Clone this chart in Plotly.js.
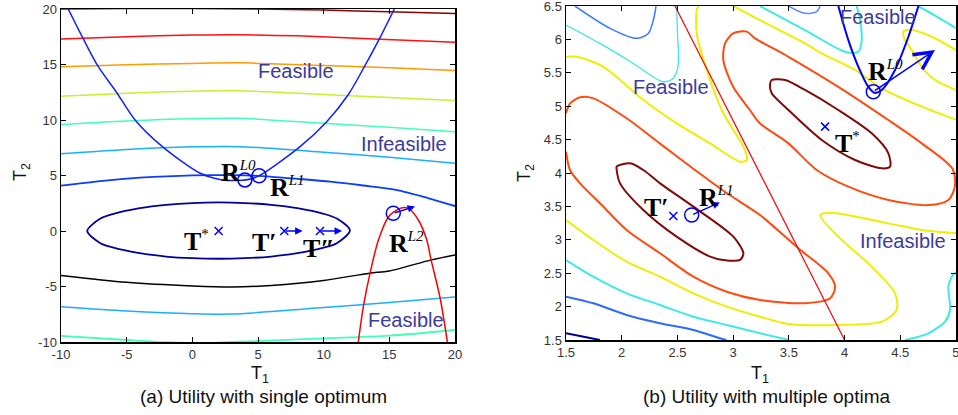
<!DOCTYPE html>
<html><head><meta charset="utf-8">
<script src="https://cdn.plot.ly/plotly-3.0.1.min.js"></script>
<style>html,body{margin:0;padding:0;background:#fff}#c{width:958px;height:415px}</style>
</head><body><div id="c"></div>
<script>
// ---------- Panel (a): contour lines ----------
const a_darkred_x = [-10,-5,0,5,10,15,20];            const a_darkred_y = [20.0,20.05,20.05,20.0,19.9,19.75,19.6];
const a_red_x     = [-10,-5,0,3.6,8,14.3,20];         const a_red_y     = [17.3,17.5,17.65,17.68,17.58,17.27,17.0];
const a_orange_x  = [-10,-5,0,3.6,10,15,20];          const a_orange_y  = [14.8,14.98,15.1,15.15,14.92,14.7,14.45];
const a_ygreen_x  = [-10,-5,0,3.6,10,15,20];          const a_ygreen_y  = [12.15,12.42,12.6,12.64,12.3,12.03,11.75];
const a_aqua_x    = [-10,-5,0,3.6,10,15,20];          const a_aqua_y    = [9.6,9.92,10.12,10.15,9.7,9.35,8.95];
const a_ltblue_x  = [-10,-5,0,3.6,10,15,20];          const a_ltblue_y  = [6.95,7.35,7.58,7.6,7.1,6.65,6.1];
const a_blue_x    = [-10,-7,-4,0,3,5,8,10.5,13,15.5,18,20];
const a_blue_y    = [4.08,4.5,4.8,5.02,5.03,4.97,4.7,4.45,4.1,3.7,2.95,2.25];
const a_ellipse_x = [-8,-7,-6,-4,-2,0,2,4,6,8,10,11,12,11,10,8,6,4,2,0,-2,-4,-6,-7,-8];
const a_ellipse_y = [0,1.12,1.55,2.06,2.36,2.52,2.57,2.52,2.36,2.06,1.55,1.12,0.05,-1.1,-1.5,-2.0,-2.3,-2.45,-2.5,-2.45,-2.3,-2.0,-1.5,-1.1,0];
const a_black_x   = [-10,-5,0,3,6,10,13.5,15,18.2,20];
const a_black_y   = [-4.0,-4.62,-4.95,-5.05,-4.9,-4.45,-3.8,-3.6,-2.6,-2.15];
const a_ltblue2_x = [-10,-5,0,3,10,15,20];            const a_ltblue2_y = [-6.82,-7.2,-7.45,-7.48,-6.9,-6.45,-5.95];
const a_aqua2_x   = [-10,-5,-2,1,3,10,15,20];         const a_aqua2_y   = [-9.45,-9.82,-10.02,-10.1,-10.0,-9.67,-9.43,-8.92];
// constraint boundaries
const a_feas_blue_x = [-9.45,-8.3,-7.16,-5.8,-4.36,-2.28,0.6,2.1,3.5,4.5,5.4,8.2,10.23,11.88,13.1,14.24,15.38];
const a_feas_blue_y = [20,17.3,14.8,12.55,10,7.6,5.2,4.65,4.55,4.7,5.2,7.6,9.85,12.3,14.8,17.3,20];
const a_feas_red_x  = [12.64,13.02,13.53,14.17,14.94,15.82,16.45,17.21,17.85,18.18,18.87,19.42];
const a_feas_red_y  = [-10,-6.82,-3.8,-0.81,1.29,2.04,2.04,0.99,-0.81,-2.6,-6.06,-10];
// points
const a_cross_x = [2,7,9.72];          const a_cross_y = [0,0,0];
const a_circ_x  = [4.0,5.08,15.3];     const a_circ_y  = [4.6,4.98,1.6];
const a_arrow_from = [[7,0],[9.72,0],[15.3,1.6]];
const a_arrow_to   = [[8.4,0],[11.4,0],[16.96,2.2]];

// ---------- Panel (b) ----------
const b_navy_x  = [1.5,1.805];  const b_navy_y = [1.6,1.5];
const b_blue1_x = [1.5,1.745,2.044,2.344,2.643,2.882,2.94]; const b_blue1_y = [2.149,2.05,1.874,1.75,1.65,1.525,1.5];
const b_blue2_x = [1.58,1.895,2.135,2.239,2.284,2.308];    const b_blue2_y = [6.5,6.166,6.016,6.09,6.29,6.5];
const b_blue3_x = [3.496,3.645,3.75,3.78];                 const b_blue3_y = [6.5,6.39,6.415,6.5];
const b_cyan1_x = [1.5,1.745,2.044,2.344,2.643,2.942,3.22,3.5]; const b_cyan1_y = [2.698,2.448,2.199,2.024,1.849,1.725,1.61,1.5];
const b_cyan2_x = [1.5,1.805,2.104,2.36,2.45,2.5,2.51,2.5,2.494]; const b_cyan2_y = [6.216,5.94,5.64,5.37,5.4,5.55,5.75,6.1,6.5];
const b_cyan3_x = [3.24,3.645,4.004,4.124,4.154,4.139,4.109];  const b_cyan3_y = [6.5,6.14,5.816,5.816,5.99,6.29,6.5];
const b_cyan4_x = [4.66,4.82,5.0];                            const b_cyan4_y = [6.5,6.35,6.17];
const b_cyan5_x = [4.543,4.752,4.902,4.947,4.932,4.962,5.0];  const b_cyan5_y = [1.5,1.6,1.774,1.949,2.298,2.448,2.52];
const b_yel1_x = [1.5,1.596,1.835,2.194,2.494,2.793,3.062,3.122,3.092,2.912,2.763,2.673,2.673,2.688];
const b_yel1_y = [5.74,5.74,5.59,5.093,4.744,4.444,4.17,4.195,4.394,4.894,5.542,6.09,6.44,6.5];
const b_yel2_x = [3.0,3.24,3.645,3.795,4.094,4.334,4.693,5.0];
const b_yel2_y = [6.5,6.29,5.94,5.79,5.542,5.268,4.993,4.8];
const b_yel3_x = [5.0,4.782,4.603,4.528,4.54,4.603,4.693,4.812,5.0];
const b_yel3_y = [5.84,6.04,6.14,6.116,6.0,5.84,5.59,5.392,5.243];
const b_yel4_x = [1.5,1.745,2.044,2.344,2.643,2.942,3.241,3.496,3.944,4.334,4.468,4.453,4.244,3.944,3.78,3.885,4.393,4.693,5.0];
const b_yel4_y = [3.296,2.997,2.673,2.448,2.199,2.0,1.849,1.74,1.725,1.774,1.949,2.199,2.598,3.047,3.371,3.406,3.246,3.147,3.097];
const b_or1_x = [1.5,1.536,1.626,1.745,2.044,2.344,2.658,2.942,3.241,3.585,3.854,3.915,3.87,3.645,3.241,2.942,2.643,2.344,2.044,1.805,1.626,1.536,1.5];
const b_or1_y = [4.894,5.043,5.133,5.118,4.82,4.44,4.045,3.7,3.371,2.873,2.499,2.298,2.124,2.05,2.1,2.223,2.448,2.798,3.147,3.546,3.845,4.045,4.32];
const b_or2_x = [3.15,3.0,2.912,2.927,3.0,3.122,3.197,3.496,3.944,4.393,4.693,4.97,4.99,4.932,4.752,4.393,4.034,3.75,3.496,3.24,3.15];
const b_or2_y = [4.943,5.29,5.69,5.94,6.09,6.116,6.016,5.74,5.29,4.793,4.444,4.06,3.8,3.596,3.52,3.596,3.795,4.045,4.444,4.744,4.943];
const b_dr1_x = [2.074,1.955,1.955,1.985,2.194,2.493,2.793,2.912,3.062,3.092,3.002,2.643,2.344,2.194,2.074];
const b_dr1_y = [4.145,4.095,4.045,3.845,3.446,3.047,2.748,2.698,2.698,2.798,3.047,3.496,3.845,4.045,4.145];
const b_dr2_x = [3.346,3.466,3.645,3.944,4.244,4.393,4.408,4.334,4.094,3.795,3.496,3.346,3.33,3.346];
const b_dr2_y = [5.392,5.392,5.243,4.943,4.594,4.295,4.095,4.07,4.195,4.494,4.943,5.193,5.32,5.392];
const b_redline_x = [2.478,4.0];   const b_redline_y = [6.5,1.5];
const b_feas_x = [3.944,4.034,4.124,4.214,4.27,4.334,4.453,4.573,4.663];
const b_feas_y = [6.5,5.99,5.59,5.29,5.2,5.243,5.542,6.04,6.5];
const b_cross_x = [3.825,2.463];  const b_cross_y = [4.694,3.356];
const b_circ_x = [2.628,4.258];   const b_circ_y = [3.371,5.217];
const b_arrow_from = [[2.628,3.371],[4.258,5.217]];
const b_arrow_to   = [[2.882,3.56],[4.812,5.841]];

const a_ticks = [-10,-5,0,5,10,15,20];
const a_ticktext = ['-10','-5','0','5','10','15','20'];
const b_xticks = [1.5,2,2.5,3,3.5,4,4.5,5];
const b_xticktext = ['1.5','2','2.5','3','3.5','4','4.5','5'];
const b_yticks = [1.5,2,2.5,3,3.5,4,4.5,5,5.5,6,6.5];
const b_yticktext = ['1.5','2','2.5','3','3.5','4','4.5','5','5.5','6','6.5'];

const traces = [];
function ln(x,y,color,w,xa,ya,smooth){
  traces.push({type:'scatter',mode:'lines',x:x,y:y,xaxis:xa,yaxis:ya,hoverinfo:'skip',showlegend:false,
    line:{color:color,width:w,shape:smooth===false?'linear':'spline',smoothing:0.8}});
}
// panel a
ln(a_darkred_x,a_darkred_y,'#8b0000',1.5,'x','y');
ln(a_red_x,a_red_y,'#ff1010',1.5,'x','y');
ln(a_orange_x,a_orange_y,'#ff9a00',1.5,'x','y');
ln(a_ygreen_x,a_ygreen_y,'#c4f030',1.5,'x','y');
ln(a_aqua_x,a_aqua_y,'#40ffb8',1.5,'x','y');
ln(a_ltblue_x,a_ltblue_y,'#1aaeff',1.5,'x','y');
ln(a_blue_x,a_blue_y,'#0a3cff',1.8,'x','y');
ln(a_ellipse_x,a_ellipse_y,'#00009a',1.8,'x','y');
ln(a_black_x,a_black_y,'#000000',1.5,'x','y');
ln(a_ltblue2_x,a_ltblue2_y,'#1aaeff',1.5,'x','y');
ln(a_aqua2_x,a_aqua2_y,'#40ffb8',1.8,'x','y');
ln(a_feas_blue_x,a_feas_blue_y,'#1020ff',1.5,'x','y');
ln(a_feas_red_x,a_feas_red_y,'#ff0000',1.5,'x','y');
const xMarker = {symbol:'x-thin-open',size:8,color:'#0000ff',line:{color:'#0000ff',width:1.5}};
const oMarker = {symbol:'circle-open',size:14,color:'#0000ff',line:{color:'#0000ff',width:1.5}};
traces.push({type:'scatter',mode:'markers',x:a_cross_x,y:a_cross_y,xaxis:'x',yaxis:'y',hoverinfo:'skip',showlegend:false,marker:xMarker});
traces.push({type:'scatter',mode:'markers',x:a_circ_x,y:a_circ_y,xaxis:'x',yaxis:'y',hoverinfo:'skip',showlegend:false,marker:oMarker});
// panel b
ln(b_navy_x,b_navy_y,'#00008c',2,'x2','y2');
ln(b_blue1_x,b_blue1_y,'#2b6bff',2,'x2','y2');
ln(b_blue2_x,b_blue2_y,'#3a78ff',1.5,'x2','y2');
ln(b_blue3_x,b_blue3_y,'#5a8cff',1.5,'x2','y2');
ln(b_cyan1_x,b_cyan1_y,'#3ee8e8',2,'x2','y2');
ln(b_cyan2_x,b_cyan2_y,'#3ee8e8',1.3,'x2','y2');
ln(b_cyan3_x,b_cyan3_y,'#3ee8e8',2,'x2','y2');
ln(b_cyan4_x,b_cyan4_y,'#3ee8e8',2,'x2','y2');
ln(b_cyan5_x,b_cyan5_y,'#3ee8e8',2,'x2','y2');
ln(b_yel1_x,b_yel1_y,'#eeee00',2,'x2','y2');
ln(b_yel2_x,b_yel2_y,'#eeee00',2,'x2','y2');
ln(b_yel3_x,b_yel3_y,'#eeee00',2,'x2','y2');
ln(b_yel4_x,b_yel4_y,'#eeee00',2,'x2','y2');
ln(b_or1_x,b_or1_y,'#ff4a10',2,'x2','y2');
ln(b_or2_x,b_or2_y,'#ff4a10',2,'x2','y2');
ln(b_dr1_x,b_dr1_y,'#7f0a0a',2,'x2','y2');
ln(b_dr2_x,b_dr2_y,'#7f0a0a',2,'x2','y2');
ln(b_redline_x,b_redline_y,'#ff0000',1.2,'x2','y2',false);
ln(b_feas_x,b_feas_y,'#0000ff',2,'x2','y2');
traces.push({type:'scatter',mode:'markers',x:b_cross_x,y:b_cross_y,xaxis:'x2',yaxis:'y2',hoverinfo:'skip',showlegend:false,marker:xMarker});
traces.push({type:'scatter',mode:'markers',x:b_circ_x,y:b_circ_y,xaxis:'x2',yaxis:'y2',hoverinfo:'skip',showlegend:false,marker:oMarker});

const ann = [];
function arrow(from,to,xr,yr,head,size){
  ann.push({x:to[0],y:to[1],ax:from[0],ay:from[1],xref:xr,yref:yr,axref:xr,ayref:yr,text:'',showarrow:true,
    arrowhead:head,arrowsize:size,arrowwidth:1.5,arrowcolor:'#0000ff',standoff:0,startstandoff:0});
}
a_arrow_from.forEach((f,i)=>arrow(f,a_arrow_to[i],'x','y',2,1));
arrow(b_arrow_from[0],b_arrow_to[0],'x2','y2',2,1);
arrow(b_arrow_from[1],b_arrow_to[1],'x2','y2',5,2.3);

const serif = 'Liberation Serif, Times New Roman, serif';
function lbl(text,x,y,xr,yr){
  ann.push({text:text,x:x,y:y,xref:xr,yref:yr,showarrow:false,xanchor:'left',yanchor:'middle',
    font:{family:serif,size:26,color:'#000'}});
}
const supS = s => '<sup><span style="font-size:15px">'+s+'</span></sup>';
lbl('<b>T</b>'+supS('*'),-0.78,-0.9,'x','y');
lbl('<b>T′</b>',4.39,-1.08,'x','y');
lbl('<b>T″</b>',8.28,-1.6,'x','y');
lbl('<b>R</b>'+supS('<i>L0</i>'),2.03,5.35,'x','y');
lbl('<b>R</b>'+supS('<i>L1</i>'),5.77,3.95,'x','y');
lbl('<b>R</b>'+supS('<i>L2</i>'),14.83,-1.1,'x','y');
lbl('<b>T</b>'+supS('*'),3.897,4.45,'x2','y2');
lbl('<b>T′</b>',2.182,3.49,'x2','y2');
lbl('<b>R</b>'+supS('<i>L1</i>'),2.676,3.64,'x2','y2');
lbl('<b>R</b>'+supS('<i>L0</i>'),4.193,5.53,'x2','y2');

function word(text,x,y,xr,yr){
  ann.push({text:text,x:x,y:y,xref:xr,yref:yr,showarrow:false,xanchor:'center',yanchor:'middle',
    font:{family:'Liberation Sans, Arial, sans-serif',size:20,color:'#3b3b9c'}});
}
word('Feasible',7.9,14.41,'x','y');
word('Infeasible',16.12,7.88,'x','y');
word('Feasible',16.24,-8.02,'x','y');
word('Feasible',4.296,6.33,'x2','y2');
word('Feasible',2.443,5.295,'x2','y2');
word('Infeasible',4.52,2.975,'x2','y2');

function ptxt(text,x,y,size,angle){
  ann.push({text:text,x:x,y:y,xref:'paper',yref:'paper',showarrow:false,xanchor:'center',yanchor:'middle',textangle:angle||0,
    font:{family:'Liberation Sans, Arial, sans-serif',size:size,color:'#111'}});
}
ptxt('T<sub>1</sub>',0.2714,0.097,18);
ptxt('T<sub>1</sub>',0.7933,0.097,18);
ptxt('T<sub>2</sub>',0.0219,0.5855,18,-90);
ptxt('T<sub>2</sub>',0.548,0.583,18,-90);
ptxt('(a) Utility with single optimum',0.2751,0.0434,19);
ptxt('(b) Utility with multiple optima',0.7996,0.0434,19);

const axBase = {showgrid:false,zeroline:false,ticks:'inside',ticklen:5,tickwidth:1,tickcolor:'#000',showline:true,mirror:'ticks',
  linecolor:'#000',linewidth:1.5,automargin:false,ticklabeloverflow:'allow',
  tickfont:{family:'Liberation Sans, Arial, sans-serif',size:13,color:'#333'},fixedrange:true};
const layout = {
  width:958,height:415,margin:{l:0,r:0,t:0,b:0},paper_bgcolor:'#fff',plot_bgcolor:'#fff',showlegend:false,
  xaxis:Object.assign({},axBase,{domain:[61/958,455/958],range:[-10,20],tickmode:'array',tickvals:a_ticks,ticktext:a_ticktext,anchor:'y'}),
  yaxis:Object.assign({},axBase,{domain:[1-342/415,1-9/415],range:[-10,20],tickmode:'array',tickvals:a_ticks,ticktext:a_ticktext,anchor:'x'}),
  xaxis2:Object.assign({},axBase,{domain:[566/958,956/958],range:[1.4999,5.0002],tickmode:'array',tickvals:b_xticks,ticktext:b_xticktext,anchor:'y2'}),
  yaxis2:Object.assign({},axBase,{domain:[1-340/415,1-6/415],range:[1.4999,6.5002],tickmode:'array',tickvals:b_yticks,ticktext:b_yticktext,anchor:'x2'}),
  annotations:ann
};
Plotly.newPlot('c',traces,layout,{staticPlot:true,displayModeBar:false});
</script></body></html>
